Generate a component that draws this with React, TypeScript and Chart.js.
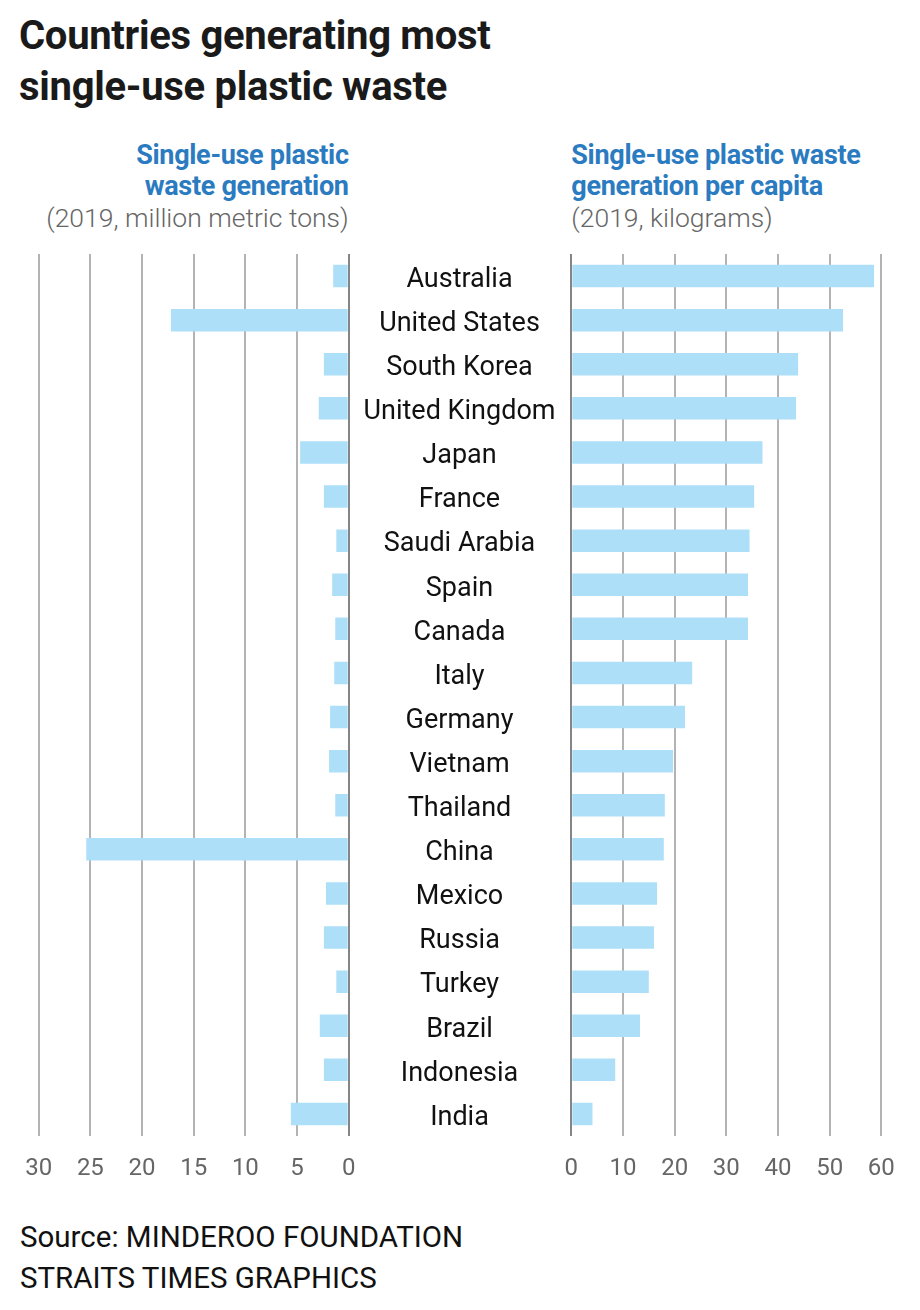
import React, { useEffect, useRef } from "react";
import { Chart, registerables } from "chart.js";

Chart.register(...registerables);

const countries = [
  "Australia", "United States", "South Korea", "United Kingdom", "Japan",
  "France", "Saudi Arabia", "Spain", "Canada", "Italy", "Germany", "Vietnam",
  "Thailand", "China", "Mexico", "Russia", "Turkey", "Brazil", "Indonesia", "India",
];

// Single-use plastic waste generation, 2019, million metric tons
const totalWaste = [
  1.5, 17.2, 2.4, 2.9, 4.7, 2.4, 1.2, 1.6, 1.3, 1.4, 1.8, 1.9, 1.3, 25.4, 2.2,
  2.4, 1.2, 2.8, 2.4, 5.6,
];

// Single-use plastic waste generation per capita, 2019, kilograms
const perCapita = [
  58.6, 52.6, 43.9, 43.5, 37.0, 35.4, 34.5, 34.2, 34.2, 23.4, 22.0, 19.7, 18.1,
  17.9, 16.6, 16.0, 15.0, 13.3, 8.5, 4.1,
];

const leftTicks = [0, 5, 10, 15, 20, 25, 30];
const rightTicks = [0, 10, 20, 30, 40, 50, 60];

const FONT = "Roboto, 'Noto Sans', sans-serif";
const BAR = "#addff8";
const GRID = "#b3b3b3";
const ZERO = "#858585";
const CANVAS_H = 960;
const AXIS_H = 64;
const LABEL_SIZE = 27;

function gridColor(ctx: any) {
  return ctx.tick && ctx.tick.value === 0 ? ZERO : GRID;
}

export default function App() {
  const leftRef = useRef<HTMLCanvasElement>(null);
  const rightRef = useRef<HTMLCanvasElement>(null);

  useEffect(() => {
    const tickFont = { family: FONT, size: 24 };
    const labelFont = { family: FONT, size: LABEL_SIZE };

    const left = new Chart(leftRef.current!, {
      type: "bar",
      data: {
        labels: countries,
        datasets: [
          {
            data: totalWaste,
            backgroundColor: BAR,
            borderWidth: 0,
            barPercentage: 0.51,
            categoryPercentage: 1,
          },
        ],
      },
      options: {
        indexAxis: "y",
        animation: false,
        responsive: false,
        maintainAspectRatio: false,
        layout: { padding: { left: 38.7, right: 111.3, top: 14, bottom: 0 } },
        plugins: { legend: { display: false }, tooltip: { enabled: false } },
        scales: {
          x: {
            type: "linear",
            reverse: true,
            min: 0,
            max: 30,
            z: 1,
            afterBuildTicks: (scale: any) => {
              scale.ticks = leftTicks.map((v) => ({ value: v }));
            },
            afterFit: (scale: any) => {
              scale.height = AXIS_H;
              scale.paddingLeft = 0;
              scale.paddingRight = 0;
            },
            grid: { color: gridColor, lineWidth: 2, drawTicks: false },
            border: { display: false },
            ticks: { font: tickFont, color: "#666", padding: 19, maxRotation: 0 },
          },
          y: { display: false },
        },
      },
    });

    // measure widest country label to center labels in the middle column
    const mc = document.createElement("canvas").getContext("2d")!;
    mc.font = `${LABEL_SIZE}px ${FONT}`;
    const widest = Math.max(...countries.map((c) => mc.measureText(c).width));
    const centerOffset = 571.3 - 459.5; // axis right edge to column centre
    const labelPad = centerOffset - widest / 2;

    const right = new Chart(rightRef.current!, {
      type: "bar",
      data: {
        labels: countries,
        datasets: [
          {
            data: perCapita,
            backgroundColor: BAR,
            borderWidth: 0,
            barPercentage: 0.51,
            categoryPercentage: 1,
          },
        ],
      },
      options: {
        indexAxis: "y",
        animation: false,
        responsive: false,
        maintainAspectRatio: false,
        layout: { padding: { left: 8.7, right: 38.7, top: 14, bottom: 0 } },
        plugins: { legend: { display: false }, tooltip: { enabled: false } },
        scales: {
          x: {
            type: "linear",
            min: 0,
            max: 60,
            z: 1,
            afterBuildTicks: (scale: any) => {
              scale.ticks = rightTicks.map((v) => ({ value: v }));
            },
            afterFit: (scale: any) => {
              scale.height = AXIS_H;
              scale.paddingLeft = 0;
              scale.paddingRight = 0;
            },
            grid: { color: gridColor, lineWidth: 2, drawTicks: false },
            border: { display: false },
            ticks: { font: tickFont, color: "#666", padding: 19, maxRotation: 0 },
          },
          y: {
            type: "category",
            position: "left",
            afterFit: (scale: any) => {
              scale.width = 222.6;
              scale.paddingTop = 0;
              scale.paddingBottom = 0;
            },
            grid: { display: false, drawTicks: false },
            border: { display: false },
            ticks: {
              font: labelFont,
              color: "#111",
              crossAlign: "center",
              padding: labelPad,
              labelOffset: 4,
              autoSkip: false,
            },
          },
        },
      },
    });

    return () => {
      left.destroy();
      right.destroy();
    };
  }, []);

  const abs = (s: React.CSSProperties): React.CSSProperties => ({ position: "absolute", margin: 0, ...s });

  return (
    <div style={{ position: "absolute", left: 0, top: 0, width: 920, height: 1310, background: "#fff", fontFamily: FONT }}>
      <div style={abs({ left: 19, top: 10, fontSize: 40, lineHeight: "51px", fontWeight: 700, color: "#1a1a1a", letterSpacing: -0.3, whiteSpace: "nowrap" })}>
        Countries generating most
        <br />
        single-use plastic waste
      </div>
      <div style={abs({ right: 920 - 348.7, top: 140, textAlign: "right", fontSize: 27, lineHeight: "31px", whiteSpace: "nowrap" })}>
        <div style={{ color: "#2b7bc1", fontWeight: 700, letterSpacing: -0.3 }}>Single-use plastic</div>
        <div style={{ color: "#2b7bc1", fontWeight: 700, letterSpacing: -0.3 }}>waste generation</div>
        <div style={{ color: "#666", fontWeight: 300, fontSize: 26.5 }}>(2019, million metric tons)</div>
      </div>
      <div style={abs({ left: 571.3, top: 140, textAlign: "left", fontSize: 27, lineHeight: "31px", whiteSpace: "nowrap" })}>
        <div style={{ color: "#2b7bc1", fontWeight: 700, letterSpacing: -0.3 }}>Single-use plastic waste</div>
        <div style={{ color: "#2b7bc1", fontWeight: 700, letterSpacing: -0.3 }}>generation per capita</div>
        <div style={{ color: "#666", fontWeight: 300, fontSize: 26.5 }}>(2019, kilograms)</div>
      </div>
      <canvas ref={leftRef} width={460} height={CANVAS_H} style={abs({ left: 0, top: 240, width: 460, height: CANVAS_H })} />
      <canvas ref={rightRef} width={580} height={CANVAS_H} style={abs({ left: 340, top: 240, width: 580, height: CANVAS_H })} />
      <div style={abs({ left: 20, top: 1217, fontSize: 29.5, lineHeight: "41px", color: "#111", fontWeight: 400, whiteSpace: "nowrap" })}>
        Source: MINDEROO FOUNDATION
        <br />
        STRAITS TIMES GRAPHICS
      </div>
    </div>
  );
}
